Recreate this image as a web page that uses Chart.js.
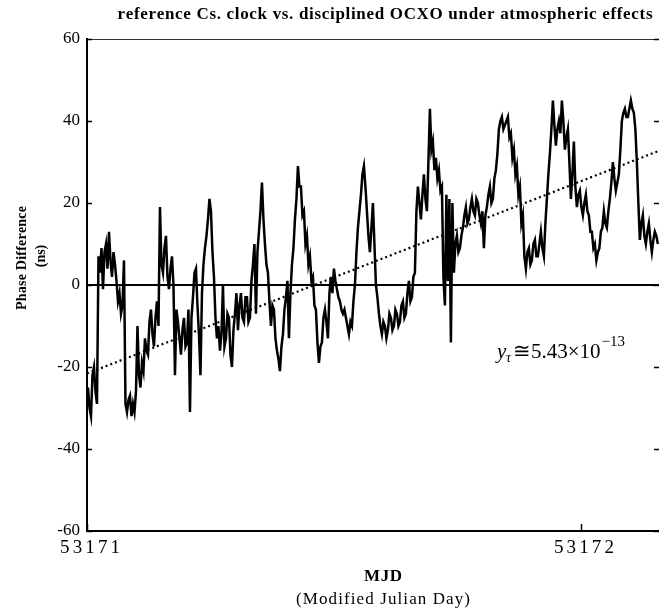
<!DOCTYPE html>
<html>
<head>
<meta charset="utf-8">
<script src="https://cdn.jsdelivr.net/npm/chart.js@4.4.0/dist/chart.umd.min.js"></script>
<style>
  html, body { margin: 0; padding: 0; background: #fff; overflow: hidden; }
  canvas { display: block; }
</style>
</head>
<body>
<canvas id="c" width="659" height="611"></canvas>
<script>
// Phase difference samples (ns), Cs reference vs. disciplined OCXO
const START_MJD = 53171.002;   // first sample time
const SAMPLE_STEP = 0.003036;  // days between samples
const phaseNs = [
  -25, -30, -32, -22, -20, -26, -29, 7, 3, 9, -1, 8, 10, 4, 13, 6, 2, 8, 5, 1,
  -4, -2, -7, -5, 6, -29, -31, -28, -27, -32, -29, -31, -26, -10, -22, -25, -19, -21, -13, -16,
  -17, -9, -6, -12, -15, -8, -4, -10, 19, 5, 3, 9, 12, 2, -1, 4, 7, 0, -22, -6,
  -9, -13, -17, -11, -8, -15, -14, -6, -31, -8, -3, 3, 4, -5, -12, -22, -2, 5, 9, 12,
  16, 21, 18, 8, 2, -8, -13, -10, -16, -12, 0, -15, -13, -7, -8, -17, -20, -11, -7, -2,
  -11, -5, -2, -8, -9, -3, -3, -9, -8, 1, 5, 10, -7, 8, 13, 18, 25, 16, 10, 5,
  3, -4, -10, -5, -6, -13, -16, -18, -21, -15, -12, -6, -3, 1, -13, -2, 5, 9, 16, 21,
  29, 24, 24, 17, 18, 10, 12, 5, 7, 1, 2, -5, -6, -14, -19, -15, -14, -8, -6, -9,
  -13, -2, 2, -2, 4, 1, -1, -3, -4, -6, -7, -6, -8, -10, -12, -9, -10, -4, 0, 8,
  14, 18, 22, 27, 29, 24, 18, 12, 8, 14, 20, 10, 0, -3, -7, -10, -12, -9, -10, -13,
  -11, -7, -8, -11, -10, -6, -7, -10, -9, -5, -4, -8, -7, -2, 1, -4, -3, 2, 3, 18,
  24, 20, 16, 22, 27, 21, 18, 30, 43, 33, 35, 28, 31, 26, 28, 23, 24, 2, -5, 22,
  1, 21, -14, 20, 3, 10, 12, 8, 9, 12, 14, 17, 19, 15, 16, 19, 21, 18, 17, 21,
  20, 17, 15, 18, 9, 17, 19, 22, 24, 20, 21, 26, 28, 32, 38, 40, 41, 38, 39, 40,
  41, 36, 37, 31, 33, 27, 29, 22, 24, 15, 17, 7, 4, 8, 9, 5, 6, 10, 11, 7,
  7, 10, 13, 9, 7, 15, 21, 27, 32, 38, 45, 39, 34, 38, 40, 37, 45, 40, 33, 36,
  38, 30, 21, 27, 35, 24, 19, 22, 23, 19, 17, 20, 22, 18, 17, 13, 13, 9, 10, 6,
  8, 9, 13, 14, 18, 15, 14, 18, 21, 25, 30, 26, 23, 25, 27, 33, 40, 42, 43, 41,
  41, 43, 45, 43, 42, 38, 30, 20, 11, 15, 17, 12, 10, 13, 15, 11, 8, 11, 13, 12,
  10
];

// Axis ranges and ticks
const X_MIN = 53171;
const X_MAX = 53172.158;
const X_TICKS = [53171, 53172];
const Y_MIN = -60;
const Y_MAX = 60;
const Y_TICKS = [-60, -40, -20, 0, 20, 40, 60];

// Linear drift fit: start offset (ns) and fractional frequency offset
const TREND_START_NS = -21.6;
const FREQ_OFFSET = 5.43e-13;

const TITLE = 'reference Cs. clock vs. disciplined OCXO under atmospheric effects';
const Y_LABEL = ['Phase Difference', '(ns)'];
const X_LABEL = ['MJD', '(Modified Julian Day)'];

const seriesPoints = phaseNs.map((v, i) => ({ x: START_MJD + i * SAMPLE_STEP, y: v }));
const nsPerDay = FREQ_OFFSET * 86400 * 1e9;
const trendPoints = [X_MIN, X_MAX].map(t => ({ x: t, y: TREND_START_NS + nsPerDay * (t - X_MIN) }));

const SERIF = '"Liberation Serif", "DejaVu Serif", serif';

// Draw text with evenly distributed extra spacing between characters
function spacedText(ctx, text, x, y, font, width, align) {
  ctx.font = font;
  const chars = [...text];
  const widths = chars.map(c => ctx.measureText(c).width);
  const natural = widths.reduce((a, b) => a + b, 0);
  const gap = width && chars.length > 1 ? (width - natural) / (chars.length - 1) : 0;
  const total = natural + gap * (chars.length - 1);
  let cx = align === 'right' ? x - total : align === 'left' ? x : x - total / 2;
  ctx.textAlign = 'left';
  ctx.textBaseline = 'middle';
  chars.forEach((c, i) => { ctx.fillText(c, cx, y); cx += widths[i] + gap; });
}

const framePlugin = {
  id: 'framePlugin',
  afterDraw(chart) {
    const { ctx, chartArea: a, scales: { x, y } } = chart;
    ctx.save();
    ctx.fillStyle = '#000';

    // top edge of the box
    ctx.lineWidth = 1;
    ctx.strokeStyle = '#333';
    ctx.beginPath();
    ctx.moveTo(a.left, a.top + 0.5);
    ctx.lineTo(a.right, a.top + 0.5);
    ctx.stroke();

    // inward tick marks
    ctx.strokeStyle = '#000';
    ctx.lineWidth = 1.5;
    y.ticks.forEach(t => {
      const py = Math.round(y.getPixelForValue(t.value)) + 0.5;
      ctx.beginPath();
      ctx.moveTo(a.left, py); ctx.lineTo(a.left + 5, py);
      ctx.moveTo(a.right - 5, py); ctx.lineTo(a.right, py);
      ctx.stroke();
    });
    x.ticks.forEach(t => {
      const px = Math.round(x.getPixelForValue(t.value)) + 0.5;
      ctx.beginPath();
      ctx.moveTo(px, a.bottom); ctx.lineTo(px, a.bottom - 7);
      ctx.stroke();
    });

    // tick labels
    y.ticks.forEach(t => {
      const py = y.getPixelForValue(t.value);
      spacedText(ctx, String(t.value), a.left - 7, py, '17px ' + SERIF, 0, 'right');
    });
    x.ticks.forEach(t => {
      const px = x.getPixelForValue(t.value);
      spacedText(ctx, String(t.value), px + 3, a.bottom + 17, '19px ' + SERIF, 60, 'center');
    });

    // title
    spacedText(ctx, TITLE, 385, 15, 'bold 17px ' + SERIF, 535, 'center');

    // y-axis label
    ctx.save();
    ctx.translate(22, 258);
    ctx.rotate(-Math.PI / 2);
    spacedText(ctx, Y_LABEL[0], 0, 0, 'bold 14px ' + SERIF, 104, 'center');
    ctx.restore();
    ctx.save();
    ctx.translate(41, 256);
    ctx.rotate(-Math.PI / 2);
    spacedText(ctx, Y_LABEL[1], 0, 0, 'bold 14px ' + SERIF, 0, 'center');
    ctx.restore();

    // x-axis label
    spacedText(ctx, X_LABEL[0], 383, 577, 'bold 17px ' + SERIF, 38, 'center');
    spacedText(ctx, X_LABEL[1], 383, 600, '17px ' + SERIF, 174, 'center');

    // drift annotation
    ctx.textBaseline = 'alphabetic';
    ctx.textAlign = 'left';
    ctx.font = 'italic 21px ' + SERIF;
    ctx.fillText('y', 497, 358);
    ctx.font = 'italic 14px ' + SERIF;
    ctx.fillText('\u03C4', 506, 362);
    ctx.font = '21px ' + SERIF;
    const mantissa = '\u2245' + FREQ_OFFSET.toExponential(2).split('e')[0] + '\u00D710';
    ctx.fillText(mantissa, 513, 358);
    const mw = ctx.measureText(mantissa).width;
    ctx.font = '15px ' + SERIF;
    ctx.fillText('\u2212' + FREQ_OFFSET.toExponential(2).split('e-')[1], 513 + mw + 1, 346);
    ctx.restore();
  }
};

new Chart(document.getElementById('c'), {
  type: 'line',
  data: {
    datasets: [
      {
        data: trendPoints,
        borderColor: '#000',
        borderWidth: 2.2,
        borderDash: [2, 3],
        pointRadius: 0,
        fill: false,
        order: 0
      },
      {
        data: seriesPoints,
        borderColor: '#000',
        borderWidth: 2.5,
        pointRadius: 0,
        tension: 0,
        fill: false,
        order: 1
      }
    ]
  },
  options: {
    responsive: false,
    animation: false,
    devicePixelRatio: 1,
    layout: { padding: { top: 39, right: 0, left: 0, bottom: 0 } },
    plugins: { legend: { display: false }, tooltip: { enabled: false }, title: { display: false } },
    scales: {
      x: {
        type: 'linear',
        min: X_MIN,
        max: X_MAX,
        afterBuildTicks: s => { s.ticks = X_TICKS.map(v => ({ value: v })); },
        afterFit: s => { s.height = 80; },
        ticks: { display: false },
        grid: { color: 'rgba(0,0,0,0)', drawTicks: false },
        border: { display: true, color: '#000', width: 2 }
      },
      y: {
        min: Y_MIN,
        max: Y_MAX,
        afterBuildTicks: s => { s.ticks = Y_TICKS.map(v => ({ value: v })); },
        afterFit: s => { s.width = 87; },
        ticks: { display: false },
        grid: {
          drawTicks: false,
          color: c => (c.tick && c.tick.value === 0 ? '#000' : 'rgba(0,0,0,0)'),
          lineWidth: c => (c.tick && c.tick.value === 0 ? 2 : 0)
        },
        border: { display: true, color: '#000', width: 2 }
      }
    }
  },
  plugins: [framePlugin]
});
</script>
</body>
</html>
